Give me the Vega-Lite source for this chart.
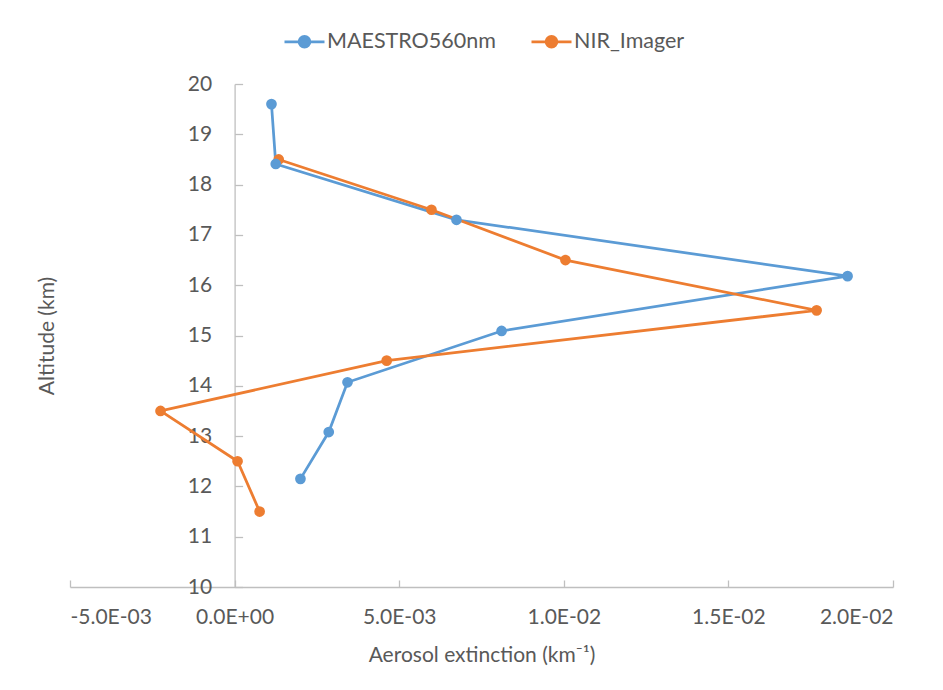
{
  "$schema": "https://vega.github.io/schema/vega-lite/v6.json",
  "width": 823,
  "height": 503,
  "autosize": "none",
  "padding": {"left": 70, "top": 84, "right": 50, "bottom": 103},
  "background": "white",
  "config": {
    "view": {"stroke": null},
    "font": "Lato",
    "axis": {"grid": false, "domainColor": "#BFBFBF", "tickColor": "#BFBFBF", "labelColor": "#595959", "titleColor": "#595959", "labelFont": "Lato", "titleFont": "Lato", "labelFontSize": 21, "titleFontSize": 21, "titleFontWeight": "normal", "domainWidth": 1.3, "tickWidth": 1.3},
    "legend": {"labelFont": "Lato", "labelFontSize": 21.5, "labelColor": "#595959", "labelLimit": 400}
  },
  "data": {
    "values": [
      {"series": "MAESTRO560nm", "i": 1, "ext": 0.00112, "alt": 19.6},
      {"series": "MAESTRO560nm", "i": 2, "ext": 0.00125, "alt": 18.41},
      {"series": "MAESTRO560nm", "i": 3, "ext": 0.00674, "alt": 17.3},
      {"series": "MAESTRO560nm", "i": 4, "ext": 0.01862, "alt": 16.18},
      {"series": "MAESTRO560nm", "i": 5, "ext": 0.00811, "alt": 15.09},
      {"series": "MAESTRO560nm", "i": 6, "ext": 0.00343, "alt": 14.07},
      {"series": "MAESTRO560nm", "i": 7, "ext": 0.00286, "alt": 13.08},
      {"series": "MAESTRO560nm", "i": 8, "ext": 0.00200, "alt": 12.15},
      {"series": "NIR_Imager", "i": 1, "ext": 0.00134, "alt": 18.5},
      {"series": "NIR_Imager", "i": 2, "ext": 0.00598, "alt": 17.5},
      {"series": "NIR_Imager", "i": 3, "ext": 0.01005, "alt": 16.5},
      {"series": "NIR_Imager", "i": 4, "ext": 0.01768, "alt": 15.5},
      {"series": "NIR_Imager", "i": 5, "ext": 0.00462, "alt": 14.5},
      {"series": "NIR_Imager", "i": 6, "ext": -0.00225, "alt": 13.5},
      {"series": "NIR_Imager", "i": 7, "ext": 0.00009, "alt": 12.5},
      {"series": "NIR_Imager", "i": 8, "ext": 0.00076, "alt": 11.5}
    ]
  },
  "encoding": {
    "x": {
      "field": "ext", "type": "quantitative",
      "scale": {"domain": [-0.005, 0.02], "nice": false, "zero": false},
      "axis": {
        "values": [-0.005, 0, 0.005, 0.01, 0.015, 0.02],
        "labelExpr": "replace(replace(replace(upper(format(datum.value, '.1e')), 'E-', 'E-0'), 'E+', 'E+0'), '\u2212', '-')",
        "title": "Aerosol extinction (km\u207B\u00B9)",
        "tickSize": -7, "labelPadding": 26, "titlePadding": 17
      }
    },
    "y": {
      "field": "alt", "type": "quantitative",
      "scale": {"domain": [10, 20], "nice": false, "zero": false},
      "axis": {
        "values": [10, 11, 12, 13, 14, 15, 16, 17, 18, 19, 20],
        "title": "Altitude (km)",
        "offset": -164.6,
        "tickSize": -8, "labelPadding": 31, "titlePadding": 130
      }
    },
    "color": {
      "field": "series", "type": "nominal",
      "scale": {"domain": ["MAESTRO560nm", "NIR_Imager"], "range": ["#5B9BD5", "#ED7D31"]},
      "legend": {
        "title": null, "orient": "none", "direction": "horizontal",
        "legendX": 213, "legendY": -64,
        "symbolType": "M-1,0L1,0M0.27,0A0.27,0.27 0 1,1 -0.27,0A0.27,0.27 0 1,1 0.27,0Z",
        "symbolSize": 1600, "symbolStrokeWidth": 2.75, "columnPadding": 30, "labelOffset": 1
      }
    },
    "order": {"field": "i", "type": "quantitative"}
  },
  "layer": [
    {"mark": {"type": "line", "strokeWidth": 2.75}},
    {"mark": {"type": "point", "filled": true, "size": 115, "opacity": 1}}
  ]
}
